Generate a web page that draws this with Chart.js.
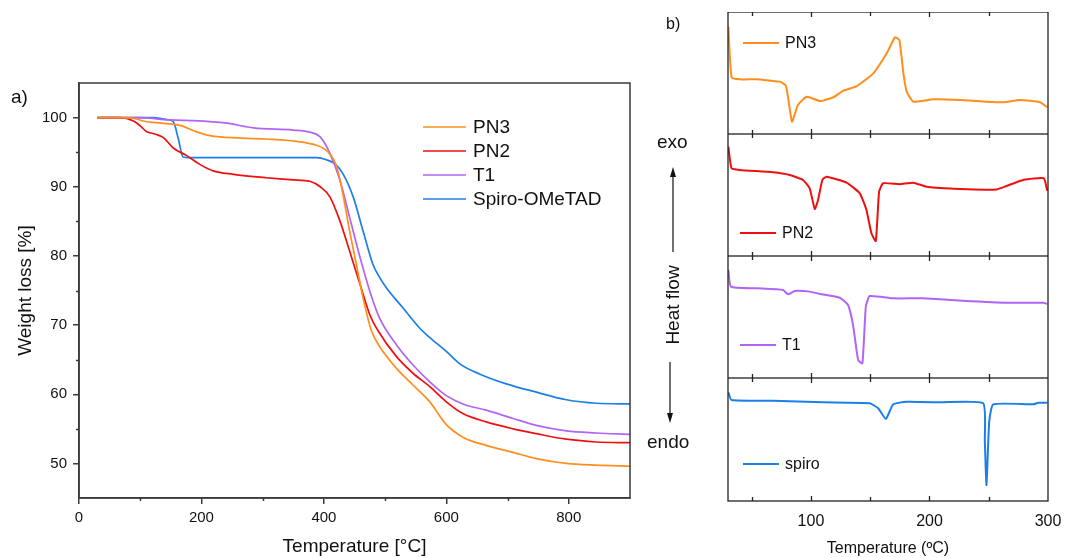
<!DOCTYPE html>
<html>
<head>
<meta charset="utf-8">
<script src="https://cdn.jsdelivr.net/npm/chart.js@4.4.1/dist/chart.umd.min.js"></script>
<style>
  body { margin: 0; background: #fff; }
  #fig { position: relative; width: 1065px; height: 558px; overflow: hidden;
         font-family: "Liberation Sans", Arial, sans-serif; color: #111; }
  canvas { position: absolute; }
  .lbl { position: absolute; white-space: nowrap; line-height: 1; }
  svg { position: absolute; left: 0; top: 0; }
</style>
</head>
<body>
<div id="fig">
  <canvas id="tga" width="640" height="558" style="left:0;top:0"></canvas>
  <canvas id="dsc1" width="425" height="122" style="left:640px;top:12px"></canvas>
  <canvas id="dsc2" width="425" height="122" style="left:640px;top:134px"></canvas>
  <canvas id="dsc3" width="425" height="122" style="left:640px;top:256px"></canvas>
  <canvas id="dsc4" width="425" height="180" style="left:640px;top:378px"></canvas>

  <div class="lbl" style="left:11px;top:87px;font-size:19px">a)</div>
  <div class="lbl" style="left:666px;top:16px;font-size:16px">b)</div>
  <div class="lbl" style="left:657px;top:132px;font-size:19px">exo</div>
  <div class="lbl" style="left:647px;top:432px;font-size:19px">endo</div>
  <div class="lbl" style="left:672px;top:305px;font-size:19px;transform:translate(-50%,-50%) rotate(-90deg)">Heat flow</div>

  <svg width="1065" height="558">
    <line x1="673" y1="252" x2="673" y2="176" stroke="#111" stroke-width="1.2"/>
    <polygon points="673,167 670,177 676,177" fill="#111"/>
    <line x1="670" y1="362" x2="670" y2="414" stroke="#111" stroke-width="1.2"/>
    <polygon points="670,423 667,413 673,413" fill="#111"/>
  </svg>
</div>

<script>
// ---- TGA data (temperature °C, weight %)
const pn3T = [30, 60, 89, 105, 121, 149, 168, 190, 208, 230, 306, 361, 388, 400, 410, 421, 432, 442, 453, 464, 478, 491, 519, 546, 573, 600, 627, 665, 709, 747, 796, 845, 900];
const pn3W = [100, 100, 99.9, 99.5, 99.3, 99.1, 98.8, 98.0, 97.5, 97.2, 96.9, 96.5, 96.0, 95.5, 94.7, 92.9, 88.5, 83.6, 78.8, 73.9, 69.1, 66.9, 63.7, 61.3, 58.9, 55.6, 53.8, 52.6, 51.6, 50.7, 50.0, 49.75, 49.6];

const pn2T = [30, 67, 89, 100, 110, 125, 138, 154, 176, 198, 219, 252, 306, 350, 377, 394, 410, 426, 442, 459, 475, 489, 519, 546, 573, 600, 627, 665, 709, 747, 796, 845, 900];
const pn2W = [100, 100, 99.5, 98.8, 98.0, 97.6, 97.1, 95.6, 94.5, 93.2, 92.3, 91.8, 91.3, 91.0, 90.8, 90.0, 88.5, 85.1, 80.7, 75.9, 71.5, 69.1, 65.4, 63.0, 61.1, 58.9, 57.2, 56.0, 55.0, 54.3, 53.5, 53.1, 53.0];

const t1T = [30, 100, 140, 176, 241, 285, 350, 377, 394, 410, 426, 442, 459, 475, 491, 519, 546, 573, 600, 627, 665, 709, 747, 796, 845, 900];
const t1W = [100, 100, 99.7, 99.6, 99.2, 98.5, 98.2, 97.9, 97.2, 94.8, 91.0, 85.6, 79.8, 74.9, 71.0, 67.1, 64.2, 61.8, 59.8, 58.6, 57.7, 56.5, 55.5, 54.7, 54.4, 54.2];

const spiroT = [30, 121, 143, 154, 162, 170, 180, 250, 388, 404, 418, 431, 448, 464, 480, 491, 502, 529, 557, 573, 600, 622, 655, 698, 747, 796, 845, 900];
const spiroW = [100, 100, 99.7, 99.4, 97.0, 94.3, 94.2, 94.2, 94.2, 93.9, 93.3, 91.9, 88.5, 83.6, 78.8, 76.9, 75.4, 72.5, 69.5, 68.2, 66.2, 64.4, 62.9, 61.5, 60.3, 59.2, 58.7, 58.6];

const tgaLabels = ["PN3", "PN2", "T1", "Spiro-OMeTAD"];
const tgaXTicks = [0, 200, 400, 600, 800];
const tgaXMinor = [100, 300, 500, 700];
const tgaYTicks = [50, 60, 70, 80, 90, 100];
const tgaYMinor = [55, 65, 75, 85, 95];

// ---- DSC data (temperature °C, heat flow a.u.)
const dscPn3T = [30.3, 33, 40, 54, 68, 74, 79, 84, 89, 96.4, 107.6, 118.9, 127.3, 138.6, 152.6, 163.9, 170.9, 174.6, 178, 180.8, 186.4, 203.3, 225.8, 248.3, 262.3, 276.4, 293.3, 299.5];
const dscPn3H = [88, 46.5, 44.8, 44.8, 43.4, 42.9, 39.3, 10.1, 23.8, 30.6, 27.0, 30.1, 35.5, 39.3, 49.7, 66.1, 79.3, 77.0, 49.7, 34.7, 26.5, 28.4, 27.9, 26.5, 26, 27.9, 26, 21.9];

const dscPn2T = [30.3, 33, 40, 68, 82, 93.3, 98.9, 103.2, 106, 109.6, 113, 130, 141.2, 146.8, 151, 154.7, 157.5, 160.9, 175, 186.2, 197.5, 225.6, 256.5, 265, 279, 296.5, 299.3];
const dscPn2H = [89.6, 71.9, 70.5, 68.6, 66.4, 62.3, 55.5, 38.5, 45.9, 62.3, 65, 60.1, 51.4, 37.7, 18.6, 12.3, 52.7, 59.6, 58.9, 60.1, 56.8, 54.9, 54.6, 57.4, 62.3, 63.7, 53.5];

const dscT1T = [30.3, 32.5, 54, 76.5, 80.7, 86.3, 99, 107.4, 124.3, 131.3, 135.5, 139.8, 143.4, 146.3, 149.6, 169.3, 194.6, 228.4, 265, 296, 299.3];
const dscT1H = [88.5, 74.9, 73.5, 72.1, 68.6, 71.3, 70.8, 68.9, 65.8, 59.8, 43.4, 14.8, 12.0, 58.5, 67.2, 65.3, 65.3, 63.4, 61.7, 61.7, 60.7];

const dscSpiroT = [30.3, 33, 68, 110.2, 149.6, 156.7, 163.2, 169.4, 180.6, 208.7, 245.3, 246.7, 248.1, 250.4, 253.8, 287.6, 291.8, 299.4];
const dscSpiroH = [88.4, 82.1, 81.5, 80.2, 79.4, 75.4, 66.7, 78.6, 80.7, 80.2, 79.4, 48.2, 13.0, 64.5, 78.6, 78.6, 79.9, 79.9];

const dscLabels = ["PN3", "PN2", "T1", "spiro"];
const dscXTicks = [100, 200, 300];
const dscXMinor = [50, 150, 250];

const colors = ["#ff8e1c", "#ee1010", "#b264f4", "#1c7fe8"];
const axisColor = "#3a3a3a";

Chart.defaults.font.family = '"Liberation Sans", Arial, sans-serif';
Chart.defaults.color = "#111";

function pts(xs, ys) {
  return xs.map((x, i) => ({ x: x, y: ys[i] }));
}

// short outward ticks (left chart) / inward ticks (right panels), plus frame
const tickMarks = {
  id: "tickMarks",
  afterDraw(chart, args, o) {
    const ctx = chart.ctx, a = chart.chartArea;
    ctx.save();
    ctx.strokeStyle = o.color;
    ctx.lineWidth = o.width;
    ctx.beginPath();
    (o.x || []).forEach(t => {
      const px = Math.round(chart.scales.x.getPixelForValue(t.v)) + 0.5;
      if (o.inward) {
        ctx.moveTo(px, a.bottom); ctx.lineTo(px, a.bottom - t.len);
        ctx.moveTo(px, a.top); ctx.lineTo(px, a.top + t.len);
      } else {
        ctx.moveTo(px, a.bottom); ctx.lineTo(px, a.bottom + t.len);
      }
    });
    (o.y || []).forEach(t => {
      const py = Math.round(chart.scales.y.getPixelForValue(t.v)) + 0.5;
      ctx.moveTo(a.left, py); ctx.lineTo(a.left - t.len, py);
    });
    ctx.stroke();
    ctx.strokeRect(a.left, a.top, a.right - a.left, a.bottom - a.top);
    ctx.restore();
  }
};

// legend drawn inside the plot
const inLegend = {
  id: "inLegend",
  afterDraw(chart, args, o) {
    const ctx = chart.ctx, a = chart.chartArea;
    ctx.save();
    ctx.font = o.size + 'px "Liberation Sans", Arial, sans-serif';
    ctx.textBaseline = "middle";
    ctx.fillStyle = "#111";
    chart.data.datasets.forEach((ds, i) => {
      const y = a.top + o.y + i * o.step;
      const x = a.left + o.x;
      ctx.strokeStyle = ds.borderColor;
      ctx.lineWidth = o.lw;
      ctx.beginPath();
      ctx.moveTo(x, y); ctx.lineTo(x + o.len, y);
      ctx.stroke();
      ctx.fillText(ds.label, x + o.len + o.gap, y + 1);
    });
    ctx.restore();
  }
};

// ---- left: TGA
const tgaSets = [[pn3T, pn3W], [pn2T, pn2W], [t1T, t1W], [spiroT, spiroW]];
new Chart(document.getElementById("tga"), {
  type: "line",
  data: {
    datasets: tgaSets.map((s, i) => ({
      label: tgaLabels[i],
      data: pts(s[0], s[1]),
      borderColor: colors[i],
      borderWidth: 1.7,
      pointRadius: 0,
      cubicInterpolationMode: "monotone",
      fill: false
    }))
  },
  options: {
    responsive: false,
    animation: false,
    devicePixelRatio: 1,
    layout: { padding: { top: 83, right: 10, left: 0, bottom: 0 } },
    plugins: {
      legend: { display: false },
      tooltip: { enabled: false },
      tickMarks: {
        color: axisColor, width: 1.5, inward: false,
        x: tgaXMinor.map(v => ({ v: v, len: 3 })),
        y: tgaYMinor.map(v => ({ v: v, len: 3 }))
      },
      inLegend: { x: 344, y: 44, step: 24, len: 43, gap: 7, lw: 1.7, size: 19 }
    },
    scales: {
      x: {
        type: "linear", min: 0, max: 900,
        afterBuildTicks: s => { s.ticks = tgaXTicks.map(v => ({ value: v })); },
        afterFit: s => { s.height = 60; s.paddingLeft = 0; s.paddingRight = 0; },
        grid: { drawOnChartArea: false, tickLength: 6, color: axisColor, lineWidth: 1.5 },
        border: { color: axisColor, width: 1.6 },
        ticks: { font: { size: 15 }, color: "#111", padding: 5, maxRotation: 0 },
        title: { display: true, text: "Temperature [°C]", font: { size: 19 }, color: "#111", padding: { top: 0, bottom: 0 } }
      },
      y: {
        min: 45, max: 105,
        afterBuildTicks: s => { s.ticks = tgaYTicks.map(v => ({ value: v })); },
        afterFit: s => { s.width = 79; s.paddingTop = 0; s.paddingBottom = 0; },
        grid: { drawOnChartArea: false, tickLength: 6, color: axisColor, lineWidth: 1.5 },
        border: { color: axisColor, width: 1.6 },
        ticks: { font: { size: 15 }, color: "#111", padding: 6 },
        title: { display: true, text: "Weight loss [%]", font: { size: 19 }, color: "#111", padding: { top: 14, bottom: 0 } }
      }
    }
  },
  plugins: [tickMarks, inLegend]
});

// ---- right: DSC panels
const dscSets = [[dscPn3T, dscPn3H], [dscPn2T, dscPn2H], [dscT1T, dscT1H], [dscSpiroT, dscSpiroH]];
const dscLegendPos = [{ x: 15, y: 31 }, { x: 12, y: 99 }, { x: 12, y: 89 }, { x: 15, y: 86 }];

dscSets.forEach((s, i) => {
  const last = i === 3;
  new Chart(document.getElementById("dsc" + (i + 1)), {
    type: "line",
    data: {
      datasets: [{
        label: dscLabels[i],
        data: pts(s[0], s[1]),
        borderColor: colors[i],
        borderWidth: 2,
        pointRadius: 0,
        tension: 0.15,
        fill: false
      }]
    },
    options: {
      responsive: false,
      animation: false,
      devicePixelRatio: 1,
      layout: { padding: { top: 0, right: 17, left: 88, bottom: 0 } },
      plugins: {
        legend: { display: false },
        tooltip: { enabled: false },
        tickMarks: {
          color: "#222", width: 1.3, inward: true,
          x: dscXTicks.filter(v => v < 300).map(v => ({ v: v, len: 5 }))
            .concat(dscXMinor.map(v => ({ v: v, len: 4 })))
        },
        inLegend: { x: dscLegendPos[i].x, y: dscLegendPos[i].y, step: 0, len: 36, gap: 6, lw: 2, size: 16 }
      },
      scales: {
        x: {
          type: "linear", min: 30, max: 300,
          display: last,
          afterBuildTicks: sc => { sc.ticks = dscXTicks.map(v => ({ value: v })); },
          afterFit: sc => {
            sc.height = last ? 57 : 0;
            sc.paddingLeft = 0; sc.paddingRight = 0;
          },
          grid: { display: false },
          border: { display: false },
          ticks: { font: { size: 16 }, color: "#111", padding: 3, maxRotation: 0 },
          title: { display: true, text: "Temperature (ºC)", font: { size: 16 }, color: "#111", padding: { top: 0, bottom: 0 } }
        },
        y: { min: 0, max: 100, display: false }
      }
    },
    plugins: [tickMarks, inLegend]
  });
});
</script>
</body>
</html>
